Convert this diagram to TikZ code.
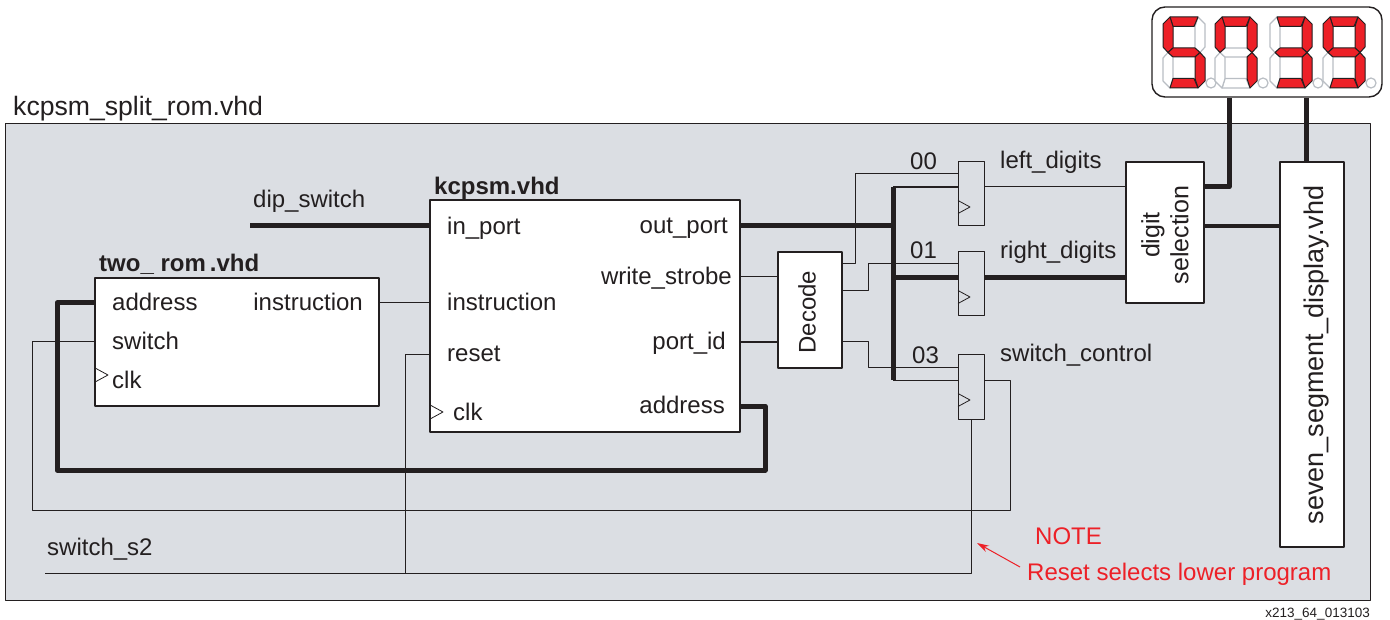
\documentclass[tikz,border=0pt]{standalone}
\usepackage{fontspec}
\setmainfont{Liberation Sans}
\usepackage{xcolor}
\usetikzlibrary{arrows.meta,positioning}
\definecolor{inkdark}{HTML}{231F20}
\definecolor{panelgray}{HTML}{DBDEE3}
\definecolor{notered}{HTML}{ED2027}
\definecolor{segoff}{HTML}{B9BEC4}
% segment outlines of one display digit
\newcommand{\sega}{(7,0)--(35,0)--(31,9.5)--(10,9.5)--cycle}
\newcommand{\segb}{(35,0)--(42,7)--(42,30)--(37,35.5)--(32,31)--(32,9.5)--cycle}
\newcommand{\segc}{(37,35.5)--(42,41)--(42,64)--(35,71)--(32,61.5)--(32,40)--cycle}
\newcommand{\segd}{(7,71)--(35,71)--(31,61.5)--(10,61.5)--cycle}
\newcommand{\sege}{(0,41)--(5,35.5)--(10,40)--(10,61.5)--(7,71)--(0,64)--cycle}
\newcommand{\segf}{(0,7)--(7,0)--(10,9.5)--(10,31)--(5,35.5)--(0,30)--cycle}
\newcommand{\segg}{(5,35.5)--(10,31)--(32,31)--(37,35.5)--(32,40)--(10,40)--cycle}
\begin{document}
\begin{tikzpicture}[x=1pt, y=-1pt, >=stealth, color=inkdark, line join=round,
    font=\fontsize{24}{27}\selectfont,
    box/.style={draw, fill=white, line width=2.6pt, inner sep=0pt, outer sep=0pt},
    reg/.style={draw, line width=1pt, inner sep=0pt, outer sep=0pt, minimum width=26, minimum height=64},
    lbl/.style={inner sep=0pt, anchor=west},
    lblr/.style={inner sep=0pt, anchor=east},
    hdr/.style={inner sep=0pt, anchor=west, font=\fontsize{24}{27}\selectfont\bfseries},
    thinw/.style={line width=1pt},
    midw/.style={line width=2.6pt},
    heavyw/.style={line width=5pt},
    segon/.style={draw=inkdark, fill=notered, line width=1pt},
    segdim/.style={draw=segoff, fill=white, line width=1.2pt},
    clktri/.pic={\draw[line width=0.8pt] (0,-6.5) -- (12,0) -- (0,6.5);}]
\useasboundingbox (0,0) rectangle (1390,620);
\fill[white] (0,0) rectangle (1390,620);

% outer panel
\node[draw, fill=panelgray, line width=1pt, inner sep=0pt, minimum width=1365, minimum height=476] (panel) at (687.5,362) {};
\node[lbl, font=\fontsize{26.6}{29}\selectfont] (panelname) at (13,108.5) {kcpsm\_split\_rom.vhd};

% boxes
\node[box, minimum width=310, minimum height=232] (kcpsm) at (585,316) {};
\node[hdr] (kcpsmname) at (434,188) {kcpsm.vhd};
\node[box, minimum width=284, minimum height=128] (rom) at (237,342) {};
\node[hdr] (romname) at (99,264) {two\_ rom\,.vhd};
\node[box, minimum width=64, minimum height=116] (decode) at (810,310) {};
\node[rotate=90, inner sep=0pt] (decodename) at (807,312) {Decode};
\node[box, minimum width=78, minimum height=141] (digitsel) at (1165,232.5) {};
\node[rotate=90, inner sep=0pt, align=center, font=\fontsize{25}{29}\selectfont] (digitname) at (1165,235) {digit\\selection};
\node[box, minimum width=64, minimum height=385] (sevenseg) at (1312,354.5) {};
\node[rotate=90, inner sep=0pt, font=\fontsize{27}{30}\selectfont] (sevenname) at (1317,355) {seven\_segment\_display.vhd};
\node[reg] (regleft) at (971,194) {};
\node[reg] (regright) at (971,284) {};
\node[reg] (regswitch) at (971,387) {};
\node[draw, fill=white, line width=1.4pt, rounded corners=13pt, minimum width=230, minimum height=90] (display) at (1267,52) {};

% port labels
\node[lbl] (inport) at (447,228) {in\_port};
\node[lbl] (instrin) at (447,302) {instruction};
\node[lbl] (resetin) at (447,354) {reset};
\node[lbl] (clkin) at (453,412) {clk};
\node[lblr] (outport) at (728,228) {out\_port};
\node[lblr] (strobe) at (732,278.5) {write\_strobe};
\node[lblr] (portid) at (726,343.5) {port\_id};
\node[lblr] (addrout) at (725,405) {address};
\node[lbl] (addrin) at (112,302) {address};
\node[lbl] (switchin) at (112,341) {switch};
\node[lbl] (clkrom) at (112,379.5) {clk};
\node[lblr] (instrout) at (363,302) {instruction};
\pic at (431,412) {clktri};
\pic at (96,375) {clktri};
\pic at (958,207) {clktri};
\pic at (958,297) {clktri};
\pic at (958,400) {clktri};

% signal names
\node[lbl] (dipname) at (253,201) {dip\_switch};
\node[lbl] (s2name) at (47,549) {switch\_s2};
\node[lbl] (code00) at (910,161) {00};
\node[lbl] (code01) at (910,250) {01};
\node[lbl] (code03) at (912,355) {03};
\node[lbl] (leftname) at (1000,162) {left\_digits};
\node[lbl] (rightname) at (1000,252) {right\_digits};
\node[lbl] (ctrlname) at (1000,355) {switch\_control};

% free ends and bends
\coordinate (dip) at (250,226);
\coordinate (bustop) at (893,187);
\coordinate (busbot) at (893,380);
\coordinate (s2) at (45,573);
\coordinate (tiptop) at (977,543);

% wires
\draw[heavyw] (dip) -- (dip -| kcpsm.west);
\draw[heavyw] (kcpsm.east |- dip) -- (dip -| bustop);
\draw[heavyw, line cap=butt] (bustop) -- (busbot);
\draw[midw] (bustop) -- (bustop -| regleft.west);
\draw[thinw] (regleft.east |- bustop) -- (bustop -| digitsel.west);
\draw[heavyw] (893,278) -- (regright.west |- 893,278);
\draw[heavyw] (regright.east |- 893,278) -- (digitsel.west |- 893,278);
\draw[thinw] (busbot) -- (busbot -| regswitch.west);
\draw[thinw] (regswitch.east |- busbot) -- (1010,380) -- (1010,510) -- (32,510) -- (32,342) -- (rom.west |- 32,342);
\draw[thinw] (decode.east |- 0,264) -- (855,264) -- (855,174) -- (regleft.west |- 855,174);
\draw[thinw] (decode.east |- 0,291) -- (868,291) -- (868,264) -- (regright.west |- 868,264);
\draw[thinw] (decode.east |- 0,342) -- (868,342) -- (868,368) -- (regswitch.west |- 868,368);
\draw[thinw] (kcpsm.east |- 0,277) -- (decode.west |- 0,277);
\draw[midw] (kcpsm.east |- 0,342) -- (decode.west |- 0,342);
\draw[thinw] (rom.east |- 0,303) -- (kcpsm.west |- 0,303);
\draw[heavyw] (kcpsm.east |- 0,406) -- (765,406) -- (765,470) -- (57,470) -- (57,303) -- (rom.west |- 0,303);
\draw[thinw] (kcpsm.west |- 0,355) -- (405,355) -- (405,573);
\draw[thinw] (s2) -- (971,573) -- (regswitch.south);
\draw[heavyw] (digitsel.east |- 0,187) -- (1229,187) -- (display.south -| 1229,0);
\draw[line width=3.4pt] (digitsel.east |- 0,226) -- (sevenseg.west |- 0,226);
\draw[heavyw] (sevenseg.north -| 1306,0) -- (display.south -| 1306,0);

% seven segment read-out
\foreach \dx/\litsegs/\darksegs in {1163/{a,f,g,c,d}/{b,e}, 1215/{a,b,c,f}/{d,e,g}, 1270/{a,b,c,d,g}/{e,f}, 1323/{a,b,c,d,f,g}/{e}} {
  \begin{scope}[shift={(\dx,17)}]
    \foreach \s in \darksegs {\draw[segdim] \csname seg\s\endcsname;}
    \foreach \s in \litsegs {\draw[segon] \csname seg\s\endcsname;}
    \draw[segdim] (48,66) circle (5);
  \end{scope}
}

% note
\node[lbl, text=notered] (notehead) at (1035,536) {NOTE};
\node[lbl, text=notered] (notetext) at (1027,574) {Reset selects lower program};
\draw[<-, draw=notered, line width=1pt, >={Stealth[length=12pt, width=7pt]}] (tiptop) -- (1020,567);
\node[lblr, font=\fontsize{13.5}{15}\selectfont] (figid) at (1370,614) {x213\_64\_013103};
\end{tikzpicture}
\end{document}
